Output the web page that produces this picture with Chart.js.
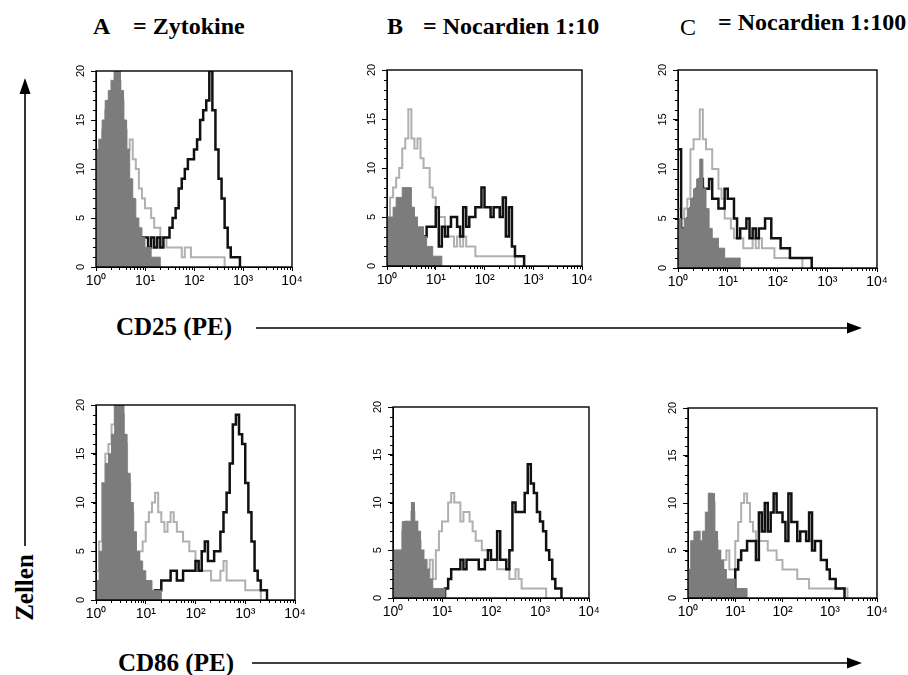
<!DOCTYPE html>
<html>
<head>
<meta charset="utf-8">
<script src="https://cdn.jsdelivr.net/npm/chart.js@4.4.0/dist/chart.umd.min.js"></script>
<style>
body { margin: 0; background: #fff; }
#fig { position: relative; width: 908px; height: 675px; background: #fff; overflow: hidden; }
#fig canvas { position: absolute; }
.t { position: absolute; font-family: "Liberation Serif", "Times New Roman", serif; font-weight: bold; white-space: nowrap; color: #000; line-height: 1; }
</style>
</head>
<body>
<div id="fig">
  <span class="t" style="left:93px;top:14px;font-size:24px">A</span>
  <span class="t" style="left:133px;top:14px;font-size:24px">= Zytokine</span>
  <span class="t" style="left:387px;top:14px;font-size:24px">B</span>
  <span class="t" style="left:423px;top:14px;font-size:24px">= Nocardien 1:10</span>
  <span class="t" style="left:680px;top:15px;font-size:24px;font-weight:normal">C</span>
  <span class="t" style="left:718px;top:10px;font-size:24px">= Nocardien 1:100</span>
  <span class="t" style="left:116px;top:314px;font-size:25px">CD25 (PE)</span>
  <span class="t" style="left:118px;top:650px;font-size:25px">CD86 (PE)</span>
  <span class="t" style="left:-10px;top:575px;font-size:25px;transform:rotate(-90deg);transform-origin:center;width:68px;text-align:center">Zellen</span>
  <svg width="908" height="675" style="position:absolute;left:0;top:0">
    <line x1="25" y1="546" x2="25" y2="90" stroke="#000" stroke-width="1.6"/>
    <polygon points="25,78 19.5,94 30.5,94" fill="#000"/>
    <line x1="256" y1="328" x2="850" y2="328" stroke="#000" stroke-width="1.6"/>
    <polygon points="862,328 847,322.5 847,333.5" fill="#000"/>
    <line x1="252" y1="663" x2="850" y2="663" stroke="#000" stroke-width="1.6"/>
    <polygon points="862,663 847,657.5 847,668.5" fill="#000"/>
  </svg>
</div>
<script>
// histogram bins: 16 per decade, 10^0 .. 10^4
const BINS = 16;
const DECADES = [0, 1, 2, 3, 4];
const DECADE_LABELS = ['10\u2070', '10\u00b9', '10\u00b2', '10\u00b3', '10\u2074'];
const Y_TICKS = [0, 5, 10, 15, 20];

function pad(n, arr) { return new Array(n).fill(0).concat(arr); }

// CD25, Zytokine
const cd25ZytFill  = [12,13,15,17,18,19,20,20,18,15,12,9,7,5,4,3,2,2,1,1,1,0];
const cd25ZytLight = [11,13,14,16,17,19,20,19,17,14,12,13,11,10,8,7,6,6,5,4,4,3,3,2,2,2,2,2,1,2,2,1,1,1,1,1,1,1,1,1,1,1,0];
const cd25ZytBlack = pad(14, [2,3,3,2,3,2,3,2,3,3,4,5,6,8,9,10,11,11,12,13,15,16,17,20,16,12,9,7,4,2,1,1,1,0]);

// CD25, Nocardien 1:10
const cd25N10Fill  = [5,5,6,7,7,8,8,8,6,5,4,4,3,2,2,1,1,1,0];
const cd25N10Light = [4,7,8,9,10,12,13,16,13,12,13,11,10,10,8,7,6,5,5,4,3,3,2,3,2,3,2,2,2,1,1,1,1,1,1,1,1,1,1,1,1,1,0];
const cd25N10Black = pad(12, [3,4,4,4,6,2,4,3,4,5,5,4,3,6,4,5,5,6,6,8,6,6,5,6,6,5,7,3,6,2,1,1,1,0]);

// CD25, Nocardien 1:100
const cd25N100Fill  = [5,4,5,6,7,8,9,11,8,6,4,3,3,2,2,1,1,1,1,1,0];
const cd25N100Light = [6,5,6,7,12,13,13,16,13,12,12,10,10,8,7,5,5,4,3,3,3,2,2,2,3,2,3,2,2,2,2,1,1,1,1,1,1,1,1,1,0];
const cd25N100Black = [12,4,4,5,6,7,8,9,8,8,9,7,7,6,6,8,7,7,5,3,4,4,5,3,4,3,4,4,5,5,3,3,3,2,2,2,1,1,1,1,1,1,1,0];

// CD86, Zytokine
const cd86ZytFill  = [2,5,12,14,15,17,20,20,20,17,13,10,7,5,4,3,2,2,1,1,1,0];
const cd86ZytLight = [3,6,12,15,16,18,20,20,19,16,12,9,5,4,5,6,8,9,10,11,9,8,7,8,9,8,7,7,6,6,5,5,4,3,3,3,3,2,2,2,3,4,2,2,2,2,2,2,1,1,1,1,1,0];
const cd86ZytBlack = pad(19, [1,1,2,2,2,3,3,2,2,3,3,3,3,4,3,5,6,4,4,5,5,7,9,11,14,18,19,17,16,12,9,6,3,2,1,1,0]);

// CD86, Nocardien 1:10
const cd86N10Fill  = [5,5,5,8,8,8,10,8,7,5,4,3,2,1,1,1,1,0];
const cd86N10Light = [5,5,5,7,8,8,9,8,6,5,4,3,4,2,5,7,8,8,10,11,10,10,8,9,9,8,7,6,6,5,5,5,4,4,3,3,3,3,2,2,3,2,1,1,1,1,1,1,1,1,0];
const cd86N10Black = pad(17, [1,2,3,3,3,4,3,4,4,4,4,3,3,4,5,4,4,7,4,4,3,5,10,9,9,9,11,14,12,11,9,8,7,5,4,2,1,1,0]);

// CD86, Nocardien 1:100
const cd86N100Fill  = [3,6,7,7,6,7,9,11,11,7,5,4,3,2,2,2,1,1,1,1,0];
const cd86N100Light = [3,6,6,7,6,7,9,11,10,6,5,3,4,5,3,3,6,8,10,11,10,8,7,6,6,6,6,5,5,5,4,4,3,3,3,3,3,2,2,2,2,1,1,1,1,1,1,1,1,1,1,1,1,1,0];
const cd86N100Black = pad(15, [1,3,4,5,5,6,6,6,4,9,7,10,7,9,11,9,9,8,6,11,8,8,6,7,7,6,9,5,6,6,4,4,3,2,2,1,1,1,0]);

const panels = [
  { left: 96,  top: 71,  w: 196, h: 196, fill: cd25ZytFill,   light: cd25ZytLight,   black: cd25ZytBlack },
  { left: 387, top: 70,  w: 195, h: 196, fill: cd25N10Fill,   light: cd25N10Light,   black: cd25N10Black },
  { left: 678, top: 70,  w: 199, h: 198, fill: cd25N100Fill,  light: cd25N100Light,  black: cd25N100Black },
  { left: 96,  top: 405, w: 199, h: 195, fill: cd86ZytFill,   light: cd86ZytLight,   black: cd86ZytBlack },
  { left: 393, top: 407, w: 196, h: 191, fill: cd86N10Fill,   light: cd86N10Light,   black: cd86N10Black },
  { left: 688, top: 408, w: 189, h: 190, fill: cd86N100Fill,  light: cd86N100Light,  black: cd86N100Black }
];

function toPoints(counts) {
  const first = counts.findIndex(v => v > 0);
  let last = counts.length - 1;
  while (last > 0 && counts[last] === 0) last--;
  return counts.map((v, i) => ({ x: i / BINS, y: (i < first - 1 || i > last + 1) ? null : v }));
}

// box round the plot plus the short minor ticks
const frame = {
  id: 'frame',
  afterDraw(chart) {
    const { ctx, chartArea: a, scales: { x, y } } = chart;
    ctx.save();
    ctx.strokeStyle = '#000';
    ctx.lineWidth = 1;
    ctx.beginPath();
    for (let v = 0; v <= 20; v++) {
      const py = Math.round(y.getPixelForValue(v)) + 0.5;
      ctx.moveTo(a.left - 3, py); ctx.lineTo(a.left, py);
    }
    for (let d = 0; d < 4; d++) {
      for (let k = 2; k <= 9; k++) {
        const px = Math.round(x.getPixelForValue(d + Math.log10(k))) + 0.5;
        ctx.moveTo(px, a.bottom); ctx.lineTo(px, a.bottom + 3);
      }
    }
    ctx.stroke();
    ctx.lineWidth = 1.4;
    ctx.strokeRect(a.left, a.top, a.right - a.left, a.bottom - a.top);
    ctx.restore();
  }
};

Chart.defaults.font.family = '"Liberation Sans", Arial, sans-serif';
Chart.defaults.color = '#000';

const fig = document.getElementById('fig');
const PADL = 30, PADT = 8, PADR = 20, PADB = 30;

panels.forEach(p => {
  const cv = document.createElement('canvas');
  cv.width = p.w + PADL + PADR;
  cv.height = p.h + PADT + PADB;
  cv.style.left = (p.left - PADL) + 'px';
  cv.style.top = (p.top - PADT) + 'px';
  fig.appendChild(cv);

  new Chart(cv.getContext('2d'), {
    type: 'line',
    data: {
      datasets: [
        { data: toPoints(p.fill), stepped: true, fill: 'origin', backgroundColor: '#7c7c7c', borderColor: '#7c7c7c', borderWidth: 1, pointRadius: 0 },
        { data: toPoints(p.black), stepped: true, fill: false, borderColor: '#111', borderWidth: 2.5, pointRadius: 0 },
        { data: toPoints(p.light), stepped: true, fill: false, borderColor: '#b0b0b0', borderWidth: 2, pointRadius: 0 }
      ]
    },
    options: {
      responsive: false,
      animation: false,
      layout: { padding: { left: 0, top: PADT, right: PADR, bottom: 0 } },
      plugins: { legend: { display: false }, tooltip: { enabled: false } },
      scales: {
        x: {
          type: 'linear', min: 0, max: 4,
          afterBuildTicks: s => { s.ticks = DECADES.map(v => ({ value: v })); },
          afterFit: s => { s.height = PADB; s.paddingLeft = 0; s.paddingRight = 0; },
          ticks: { callback: v => DECADE_LABELS[DECADES.indexOf(v)], maxRotation: 0, padding: 2, font: { size: 14 } },
          grid: { drawOnChartArea: false, tickLength: 4, color: '#000' },
          border: { color: '#000' }
        },
        y: {
          min: 0, max: 20,
          afterBuildTicks: s => { s.ticks = Y_TICKS.map(v => ({ value: v })); },
          afterFit: s => { s.width = PADL; s.paddingTop = 0; s.paddingBottom = 0; },
          ticks: { minRotation: 90, maxRotation: 90, crossAlign: 'center', padding: 4, font: { size: 11 } },
          grid: { drawOnChartArea: false, tickLength: 5, color: '#000' },
          border: { color: '#000' }
        }
      }
    },
    plugins: [frame]
  });
});
</script>
</body>
</html>
